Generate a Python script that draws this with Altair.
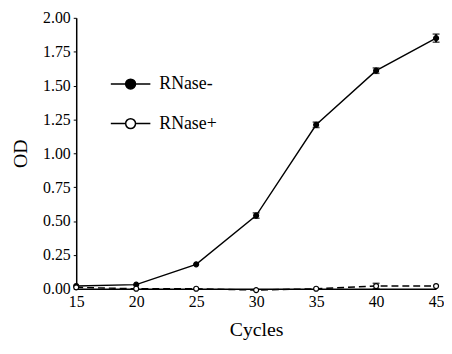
import altair as alt
import pandas as pd

cycles = [15, 20, 25, 30, 35, 40, 45]
od_minus = [0.02, 0.03, 0.18, 0.54, 1.21, 1.61, 1.85]
err_minus = [0.0, 0.0, 0.0, 0.02, 0.02, 0.02, 0.03]
od_plus = [0.01, 0.00, 0.00, -0.01, 0.00, 0.02, 0.02]
err_plus = [0.0, 0.0, 0.0, 0.0, 0.0, 0.02, 0.0]
y_ticks = [0, 0.25, 0.5, 0.75, 1.0, 1.25, 1.5, 1.75, 2.0]

rows = []
for c, v, e in zip(cycles, od_minus, err_minus):
    rows.append({"Cycles": c, "OD": v, "lo": v - e, "hi": v + e, "series": "RNase-"})
for c, v, e in zip(cycles, od_plus, err_plus):
    rows.append({"Cycles": c, "OD": v, "lo": v - e, "hi": v + e, "series": "RNase+"})
df = pd.DataFrame(rows)

FONT = "Liberation Serif"
order = ["RNase-", "RNase+"]

x_scale = alt.Scale(domain=[15, 45], nice=False)
y_scale = alt.Scale(domain=[0, 2], nice=False)
x_axis = alt.Axis(values=cycles, title="Cycles", grid=False, tickSize=0,
                  labelFont=FONT, titleFont=FONT,
                  labelFontSize=16, titleFontSize=20, titleFontWeight="normal",
                  labelPadding=5, titlePadding=10, domainWidth=1.5,
                  labelFlush=False, labelOverlap=False)
y_axis = alt.Axis(values=y_ticks, format=".2f", title="OD", grid=False, tickSize=3,
                  labelFont=FONT, titleFont=FONT,
                  labelFontSize=16, titleFontSize=20, titleFontWeight="normal",
                  labelPadding=3, titlePadding=12, domainWidth=1.5,
                  labelFlush=False, labelOverlap=False)

x = alt.X("Cycles:Q", scale=x_scale, axis=x_axis)
y = alt.Y("OD:Q", scale=y_scale, axis=y_axis)

sym = "M-1,0H-0.25M0.25,0H1M0.25,0A0.25,0.25 0 1,1 -0.25,0A0.25,0.25 0 1,1 0.25,0Z"

base = alt.Chart(df)

line_minus = base.transform_filter(alt.datum.series == "RNase-").mark_line(
    color="black", strokeWidth=1.4).encode(x=x, y=y)
line_plus = base.transform_filter(alt.datum.series == "RNase+").mark_line(
    color="black", strokeWidth=1.4, strokeDash=[7, 4]).encode(x=x, y=y)

eb = base.transform_filter("datum.hi > datum.lo")
errs = eb.mark_rule(color="black", strokeWidth=2).encode(
    x=x, y=alt.Y("lo:Q", scale=y_scale, axis=y_axis), y2="hi:Q")
caps_hi = eb.mark_tick(color="black", thickness=1.5, size=7, orient="horizontal").encode(
    x=x, y=alt.Y("hi:Q", scale=y_scale, axis=y_axis))
caps_lo = eb.mark_tick(color="black", thickness=1.5, size=7, orient="horizontal").encode(
    x=x, y=alt.Y("lo:Q", scale=y_scale, axis=y_axis))

points = base.mark_point(filled=True, stroke="black", strokeWidth=1.2, size=25, opacity=1).encode(
    x=x, y=y,
    fill=alt.Fill("series:N", scale=alt.Scale(domain=order, range=["black", "white"]),
                  legend=alt.Legend(title=None, orient="none", legendX=34, legendY=46,
                                    symbolType=sym, symbolSize=1600, symbolStrokeColor="black",
                                    symbolStrokeWidth=1.5, labelFont=FONT, labelFontSize=18,
                                    rowPadding=10, labelOffset=8)),
)

chart = alt.layer(line_minus, line_plus, errs, caps_hi, caps_lo, points).properties(
    width=364, height=274,
    autosize=alt.AutoSizeParams(type="none"),
    padding={"left": 69, "top": 8, "right": 8, "bottom": 56},
).configure_axis(
    labelFont=FONT, titleFont=FONT, labelColor="black", titleColor="black",
    domainColor="black", tickColor="black",
).configure_view(stroke=None).configure_legend(labelColor="black", labelFont=FONT)

chart.save("out.html", embed_options={"renderer": "svg", "actions": False})
